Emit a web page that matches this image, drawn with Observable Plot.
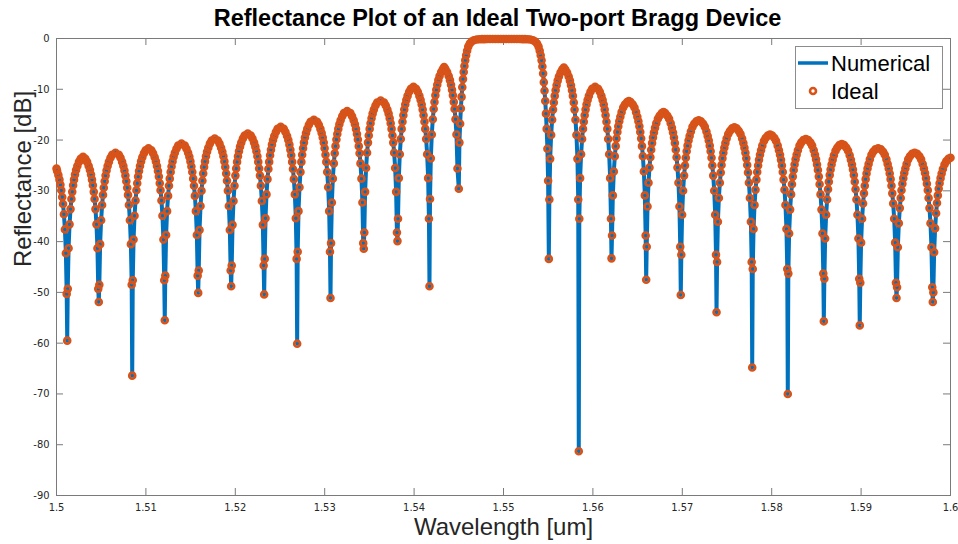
<!DOCTYPE html>
<html><head><meta charset="utf-8">
<script src="https://cdn.jsdelivr.net/npm/d3@7"></script>
<script src="https://cdn.jsdelivr.net/npm/@observablehq/plot@0.6"></script>
<style>
html,body{margin:0;padding:0;background:#fff;}
#chart{width:958px;height:544px;}
</style></head><body><div id="chart"></div>
<script>
// ---- Data: [wavelength (um), reflectance (dB)] ----
const leftSidelobes = [
[1.50000,-25.6],[1.50007,-26.1],[1.50021,-26.9],[1.50033,-27.8],[1.50044,-28.8],[1.50054,-29.9],[1.50064,-31.2],[1.50073,-32.6],[1.50083,-34.6],[1.50094,-37.6],[1.50105,-42.3],[1.50114,-50.3],
[1.50120,-59.5],
[1.50126,-49.3],[1.50135,-41.3],[1.50146,-36.6],[1.50157,-33.6],[1.50167,-31.6],[1.50176,-30.2],[1.50186,-28.9],[1.50196,-27.8],[1.50207,-26.8],[1.50219,-25.9],[1.50233,-25.1],[1.50251,-24.3],[1.50270,-23.7],[1.50297,-23.3],[1.50323,-23.7],[1.50342,-24.3],[1.50360,-25.1],[1.50374,-25.9],[1.50386,-26.8],[1.50397,-27.8],[1.50407,-28.9],[1.50417,-30.2],[1.50426,-31.6],[1.50436,-33.6],[1.50447,-36.6],[1.50458,-41.3],[1.50467,-49.3],
[1.50473,-51.9],
[1.50479,-48.5],[1.50488,-40.5],[1.50499,-35.8],[1.50510,-32.8],[1.50520,-30.8],[1.50529,-29.4],[1.50539,-28.1],[1.50549,-27.0],[1.50560,-26.0],[1.50572,-25.1],[1.50586,-24.3],[1.50604,-23.5],[1.50623,-22.9],[1.50660,-22.5],[1.50697,-22.9],[1.50716,-23.5],[1.50734,-24.3],[1.50748,-25.1],[1.50760,-26.0],[1.50771,-27.0],[1.50781,-28.1],[1.50791,-29.4],[1.50800,-30.8],[1.50810,-32.8],[1.50821,-35.8],[1.50832,-40.5],[1.50841,-48.5],
[1.50847,-66.4],
[1.50853,-47.6],[1.50862,-39.6],[1.50873,-34.9],[1.50884,-31.9],[1.50894,-29.9],[1.50903,-28.5],[1.50913,-27.2],[1.50923,-26.1],[1.50934,-25.1],[1.50946,-24.2],[1.50960,-23.4],[1.50978,-22.6],[1.50997,-22.0],[1.51029,-21.6],[1.51061,-22.0],[1.51080,-22.6],[1.51098,-23.4],[1.51112,-24.2],[1.51124,-25.1],[1.51135,-26.1],[1.51145,-27.2],[1.51155,-28.5],[1.51164,-29.9],[1.51174,-31.9],[1.51185,-34.9],[1.51196,-39.6],[1.51205,-47.6],
[1.51211,-55.5],
[1.51217,-46.7],[1.51226,-38.7],[1.51237,-34.0],[1.51248,-31.0],[1.51258,-29.0],[1.51267,-27.6],[1.51277,-26.3],[1.51287,-25.2],[1.51298,-24.2],[1.51310,-23.3],[1.51324,-22.5],[1.51342,-21.7],[1.51361,-21.1],[1.51398,-20.7],[1.51435,-21.1],[1.51454,-21.7],[1.51472,-22.5],[1.51486,-23.3],[1.51498,-24.2],[1.51509,-25.2],[1.51519,-26.3],[1.51529,-27.6],[1.51538,-29.0],[1.51548,-31.0],[1.51559,-34.0],[1.51570,-38.7],[1.51579,-46.7],
[1.51585,-50.1],
[1.51591,-45.7],[1.51600,-37.7],[1.51611,-33.0],[1.51622,-30.0],[1.51632,-28.0],[1.51641,-26.6],[1.51651,-25.3],[1.51661,-24.2],[1.51672,-23.2],[1.51684,-22.3],[1.51698,-21.5],[1.51716,-20.7],[1.51735,-20.1],[1.51770,-19.7],[1.51804,-20.1],[1.51823,-20.7],[1.51841,-21.5],[1.51855,-22.3],[1.51867,-23.2],[1.51878,-24.2],[1.51888,-25.3],[1.51898,-26.6],[1.51907,-28.0],[1.51917,-30.0],[1.51928,-33.0],[1.51939,-37.7],[1.51948,-45.7],
[1.51954,-48.8],
[1.51960,-44.7],[1.51969,-36.7],[1.51980,-32.0],[1.51991,-29.0],[1.52001,-27.0],[1.52010,-25.6],[1.52020,-24.3],[1.52030,-23.2],[1.52041,-22.2],[1.52053,-21.3],[1.52067,-20.5],[1.52085,-19.7],[1.52104,-19.1],[1.52139,-18.7],[1.52173,-19.1],[1.52192,-19.7],[1.52210,-20.5],[1.52224,-21.3],[1.52236,-22.2],[1.52247,-23.2],[1.52257,-24.3],[1.52267,-25.6],[1.52276,-27.0],[1.52286,-29.0],[1.52297,-32.0],[1.52308,-36.7],[1.52317,-44.7],
[1.52323,-50.4],
[1.52329,-43.4],[1.52338,-35.4],[1.52349,-30.7],[1.52360,-27.7],[1.52370,-25.7],[1.52379,-24.3],[1.52389,-23.0],[1.52399,-21.9],[1.52410,-20.9],[1.52422,-20.0],[1.52436,-19.2],[1.52454,-18.4],[1.52473,-17.8],[1.52508,-17.4],[1.52542,-17.8],[1.52561,-18.4],[1.52579,-19.2],[1.52593,-20.0],[1.52605,-20.9],[1.52616,-21.9],[1.52626,-23.0],[1.52636,-24.3],[1.52645,-25.7],[1.52655,-27.7],[1.52666,-30.7],[1.52677,-35.4],[1.52686,-43.4],
[1.52692,-60.1],
[1.52698,-42.0],[1.52707,-34.0],[1.52718,-29.3],[1.52729,-26.3],[1.52739,-24.3],[1.52748,-22.9],[1.52758,-21.6],[1.52768,-20.5],[1.52779,-19.5],[1.52791,-18.6],[1.52805,-17.8],[1.52823,-17.0],[1.52842,-16.4],[1.52879,-16.0],[1.52915,-16.4],[1.52934,-17.0],[1.52952,-17.8],[1.52966,-18.6],[1.52978,-19.5],[1.52989,-20.5],[1.52999,-21.6],[1.53009,-22.9],[1.53018,-24.3],[1.53028,-26.3],[1.53039,-29.3],[1.53050,-34.0],[1.53059,-42.0],
[1.53065,-51.1],
[1.53071,-40.3],[1.53080,-32.3],[1.53091,-27.6],[1.53102,-24.6],[1.53112,-22.6],[1.53121,-21.2],[1.53131,-19.9],[1.53141,-18.8],[1.53152,-17.8],[1.53164,-16.9],[1.53178,-16.1],[1.53196,-15.3],[1.53215,-14.7],[1.53251,-14.3],[1.53287,-14.7],[1.53306,-15.3],[1.53324,-16.1],[1.53338,-16.9],[1.53350,-17.8],[1.53361,-18.8],[1.53371,-19.9],[1.53381,-21.2],[1.53390,-22.6],[1.53400,-24.6],[1.53411,-27.6],[1.53422,-32.3],[1.53431,-40.3],
[1.53437,-41.4],
[1.53443,-38.2],[1.53452,-30.2],[1.53463,-25.5],[1.53474,-22.5],[1.53484,-20.5],[1.53493,-19.1],[1.53503,-17.8],[1.53513,-16.7],[1.53524,-15.7],[1.53536,-14.8],[1.53550,-14.0],[1.53568,-13.2],[1.53587,-12.6],[1.53626,-12.2],[1.53664,-12.6],[1.53683,-13.2],[1.53701,-14.0],[1.53715,-14.8],[1.53727,-15.7],[1.53738,-16.7],[1.53748,-17.8],[1.53758,-19.1],[1.53767,-20.5],[1.53777,-22.5],[1.53788,-25.5],[1.53799,-30.2],[1.53808,-38.2],
[1.53814,-39.9],
[1.53820,-35.5],[1.53829,-27.5],[1.53840,-22.8],[1.53851,-19.8],[1.53861,-17.8],[1.53870,-16.4],[1.53880,-15.1],[1.53890,-14.0],[1.53901,-13.0],[1.53913,-12.1],[1.53927,-11.3],[1.53945,-10.5],[1.53964,-9.9],[1.53993,-9.5],[1.54022,-9.9],[1.54041,-10.5],[1.54059,-11.3],[1.54073,-12.1],[1.54085,-13.0],[1.54096,-14.0],[1.54106,-15.1],[1.54116,-16.4],[1.54125,-17.8],[1.54135,-19.8],[1.54146,-22.8],[1.54157,-27.5],[1.54166,-35.5],
[1.54172,-48.8],
[1.54178,-31.6],[1.54187,-23.6],[1.54198,-18.9],[1.54209,-15.9],[1.54219,-13.9],[1.54228,-12.5],[1.54238,-11.2],[1.54248,-10.1],[1.54259,-9.1],[1.54271,-8.2],[1.54285,-7.4],[1.54303,-6.6],[1.54322,-6.0],[1.54336,-5.6],[1.54350,-6.0],[1.54369,-6.6],[1.54387,-7.4],[1.54401,-8.2],[1.54413,-9.1],[1.54424,-10.1],[1.54434,-11.2],[1.54444,-12.5],[1.54453,-13.9],[1.54463,-15.9],[1.54474,-18.9],[1.54485,-25.6],
[1.54500,-29.6]
];

const mainLobe = [
[1.54507,-20.5],[1.54515,-16.8],[1.54523,-13.8],[1.54531,-11.5],[1.54539,-9.6],[1.54547,-8.0],[1.54555,-6.6],[1.54563,-5.4],[1.54572,-4.3],[1.54582,-3.3],[1.54593,-2.4],[1.54606,-1.6],[1.54623,-1.0],[1.54643,-0.6],[1.54668,-0.35],[1.54700,-0.2],
[1.54730,-0.15],[1.54760,-0.13],[1.54790,-0.12],[1.54820,-0.11],[1.54850,-0.1],[1.54880,-0.1],[1.54910,-0.1],[1.54940,-0.1],[1.54970,-0.1],[1.55000,-0.1],[1.55030,-0.1],[1.55060,-0.1],[1.55090,-0.1],[1.55120,-0.1],[1.55150,-0.1],[1.55180,-0.11],[1.55210,-0.12],[1.55240,-0.13],[1.55270,-0.15],
[1.55300,-0.2],[1.55330,-0.35],[1.55355,-0.6],[1.55375,-1.0],[1.55392,-1.6],[1.55405,-2.4],[1.55416,-3.3],[1.55426,-4.3],[1.55435,-5.5],[1.55443,-6.9],[1.55451,-8.6],[1.55459,-10.3],[1.55467,-12.3],[1.55475,-14.8],[1.55483,-17.8],[1.55491,-21.7],[1.55499,-28.0]
];

const rightSidelobes = [
[1.55507,-43.4],
[1.55513,-31.7],[1.55522,-23.7],[1.55533,-19.0],[1.55544,-16.0],[1.55554,-14.0],[1.55563,-12.6],[1.55573,-11.3],[1.55583,-10.2],[1.55594,-9.2],[1.55606,-8.3],[1.55620,-7.5],[1.55638,-6.7],[1.55657,-6.1],[1.55675,-5.7],[1.55692,-6.1],[1.55711,-6.7],[1.55729,-7.5],[1.55743,-8.3],[1.55755,-9.2],[1.55766,-10.2],[1.55776,-11.3],[1.55786,-12.6],[1.55795,-14.0],[1.55805,-16.0],[1.55816,-19.0],[1.55827,-23.7],[1.55836,-31.7],
[1.55842,-81.3],
[1.55848,-35.5],[1.55857,-27.5],[1.55868,-22.8],[1.55879,-19.8],[1.55889,-17.8],[1.55898,-16.4],[1.55908,-15.1],[1.55918,-14.0],[1.55929,-13.0],[1.55941,-12.1],[1.55955,-11.3],[1.55973,-10.5],[1.55992,-9.9],[1.56025,-9.5],[1.56058,-9.9],[1.56077,-10.5],[1.56095,-11.3],[1.56109,-12.1],[1.56121,-13.0],[1.56132,-14.0],[1.56142,-15.1],[1.56152,-16.4],[1.56161,-17.8],[1.56171,-19.8],[1.56182,-22.8],[1.56193,-27.5],[1.56202,-35.5],
[1.56208,-43.3],
[1.56214,-38.8],[1.56223,-30.9],[1.56234,-26.2],[1.56245,-23.2],[1.56255,-21.2],[1.56264,-19.7],[1.56274,-18.4],[1.56284,-17.3],[1.56295,-16.3],[1.56307,-15.4],[1.56321,-14.5],[1.56339,-13.6],[1.56358,-13.0],[1.56383,-12.5],[1.56402,-12.3],[1.56421,-12.5],[1.56446,-13.0],[1.56465,-13.6],[1.56483,-14.5],[1.56497,-15.4],[1.56509,-16.3],[1.56520,-17.3],[1.56530,-18.4],[1.56540,-19.7],[1.56549,-21.2],[1.56559,-23.2],[1.56570,-26.2],[1.56581,-30.9],[1.56590,-38.8],
[1.56596,-47.5],
[1.56602,-41.0],[1.56611,-33.1],[1.56622,-28.4],[1.56633,-25.4],[1.56643,-23.4],[1.56652,-21.9],[1.56662,-20.6],[1.56672,-19.5],[1.56683,-18.5],[1.56695,-17.6],[1.56709,-16.7],[1.56727,-15.8],[1.56746,-15.2],[1.56771,-14.7],[1.56790,-14.5],[1.56808,-14.7],[1.56833,-15.2],[1.56852,-15.8],[1.56870,-16.7],[1.56884,-17.6],[1.56896,-18.5],[1.56907,-19.5],[1.56917,-20.6],[1.56927,-21.9],[1.56936,-23.4],[1.56946,-25.4],[1.56957,-28.4],[1.56968,-33.1],[1.56977,-41.0],
[1.56983,-50.5],
[1.56989,-42.6],[1.56998,-34.7],[1.57009,-30.0],[1.57020,-27.0],[1.57030,-25.0],[1.57039,-23.5],[1.57049,-22.2],[1.57059,-21.1],[1.57070,-20.1],[1.57082,-19.2],[1.57096,-18.3],[1.57114,-17.4],[1.57133,-16.8],[1.57158,-16.3],[1.57183,-16.1],[1.57208,-16.3],[1.57233,-16.8],[1.57252,-17.4],[1.57270,-18.3],[1.57284,-19.2],[1.57296,-20.1],[1.57307,-21.1],[1.57317,-22.2],[1.57327,-23.5],[1.57336,-25.0],[1.57346,-27.0],[1.57357,-30.0],[1.57368,-34.7],[1.57377,-42.6],
[1.57383,-53.9],
[1.57389,-44.0],[1.57398,-36.1],[1.57409,-31.4],[1.57420,-28.4],[1.57430,-26.4],[1.57439,-24.9],[1.57449,-23.6],[1.57459,-22.5],[1.57470,-21.5],[1.57482,-20.6],[1.57496,-19.7],[1.57514,-18.8],[1.57533,-18.2],[1.57558,-17.7],[1.57583,-17.5],[1.57607,-17.7],[1.57632,-18.2],[1.57651,-18.8],[1.57669,-19.7],[1.57683,-20.6],[1.57695,-21.5],[1.57706,-22.5],[1.57716,-23.6],[1.57726,-24.9],[1.57735,-26.4],[1.57745,-28.4],[1.57756,-31.4],[1.57767,-36.1],[1.57776,-44.0],
[1.57782,-64.8],
[1.57788,-45.4],[1.57797,-37.5],[1.57808,-32.8],[1.57819,-29.8],[1.57829,-27.8],[1.57838,-26.3],[1.57848,-25.0],[1.57858,-23.9],[1.57869,-22.9],[1.57881,-22.0],[1.57895,-21.1],[1.57913,-20.2],[1.57932,-19.6],[1.57957,-19.1],[1.57981,-18.9],[1.58005,-19.1],[1.58030,-19.6],[1.58049,-20.2],[1.58067,-21.1],[1.58081,-22.0],[1.58093,-22.9],[1.58104,-23.9],[1.58114,-25.0],[1.58124,-26.3],[1.58133,-27.8],[1.58143,-29.8],[1.58154,-32.8],[1.58165,-37.5],[1.58174,-45.4],
[1.58180,-70.0],
[1.58186,-46.3],[1.58195,-38.4],[1.58206,-33.7],[1.58217,-30.7],[1.58227,-28.7],[1.58236,-27.2],[1.58246,-25.9],[1.58256,-24.8],[1.58267,-23.8],[1.58279,-22.9],[1.58293,-22.0],[1.58311,-21.1],[1.58330,-20.5],[1.58355,-20.0],[1.58382,-19.8],[1.58408,-20.0],[1.58433,-20.5],[1.58452,-21.1],[1.58470,-22.0],[1.58484,-22.9],[1.58496,-23.8],[1.58507,-24.8],[1.58517,-25.9],[1.58527,-27.2],[1.58536,-28.7],[1.58546,-30.7],[1.58557,-33.7],[1.58568,-38.4],[1.58577,-46.3],
[1.58583,-55.7],
[1.58589,-47.3],[1.58598,-39.4],[1.58609,-34.7],[1.58620,-31.7],[1.58630,-29.7],[1.58639,-28.2],[1.58649,-26.9],[1.58659,-25.8],[1.58670,-24.8],[1.58682,-23.9],[1.58696,-23.0],[1.58714,-22.1],[1.58733,-21.5],[1.58758,-21.0],[1.58784,-20.8],[1.58810,-21.0],[1.58835,-21.5],[1.58854,-22.1],[1.58872,-23.0],[1.58886,-23.9],[1.58898,-24.8],[1.58909,-25.8],[1.58919,-26.9],[1.58929,-28.2],[1.58938,-29.7],[1.58948,-31.7],[1.58959,-34.7],[1.58970,-39.4],[1.58979,-47.3],
[1.58985,-56.5],
[1.58991,-48.1],[1.59000,-40.2],[1.59011,-35.5],[1.59022,-32.5],[1.59032,-30.5],[1.59041,-29.0],[1.59051,-27.7],[1.59061,-26.6],[1.59072,-25.6],[1.59084,-24.7],[1.59098,-23.8],[1.59116,-22.9],[1.59135,-22.3],[1.59160,-21.8],[1.59191,-21.6],[1.59221,-21.8],[1.59246,-22.3],[1.59265,-22.9],[1.59283,-23.8],[1.59297,-24.7],[1.59309,-25.6],[1.59320,-26.6],[1.59330,-27.7],[1.59340,-29.0],[1.59349,-30.5],[1.59359,-32.5],[1.59370,-35.5],[1.59381,-40.2],[1.59390,-48.1],
[1.59396,-51.1],
[1.59402,-49.0],[1.59411,-41.1],[1.59422,-36.4],[1.59433,-33.4],[1.59443,-31.4],[1.59452,-29.9],[1.59462,-28.6],[1.59472,-27.5],[1.59483,-26.5],[1.59495,-25.6],[1.59509,-24.7],[1.59527,-23.8],[1.59546,-23.2],[1.59571,-22.7],[1.59599,-22.5],[1.59627,-22.7],[1.59652,-23.2],[1.59671,-23.8],[1.59689,-24.7],[1.59703,-25.6],[1.59715,-26.5],[1.59726,-27.5],[1.59736,-28.6],[1.59746,-29.9],[1.59755,-31.4],[1.59765,-33.4],[1.59776,-36.4],[1.59787,-41.1],[1.59796,-49.0],
[1.59802,-51.9],
[1.59808,-50.0],[1.59817,-42.1],[1.59828,-37.4],[1.59839,-34.4],[1.59849,-32.4],[1.59858,-30.9],[1.59868,-29.6],[1.59878,-28.5],[1.59889,-27.5],[1.59901,-26.6],[1.59915,-25.7],[1.59933,-24.8],[1.59952,-24.2],[1.59977,-23.7],[1.60000,-23.5]
];

const xTicks = [1.5,1.51,1.52,1.53,1.54,1.55,1.56,1.57,1.58,1.59,1.6];
const xTickLabels = ["1.5","1.51","1.52","1.53","1.54","1.55","1.56","1.57","1.58","1.59","1.6"];
const yTicks = [0,-10,-20,-30,-40,-50,-60,-70,-80,-90];
const yTickLabels = ["0","-10","-20","-30","-40","-50","-60","-70","-80","-90"];
const seriesNames = ["Numerical","Ideal"];
const titleText = "Reflectance Plot of an Ideal Two-port Bragg Device";
const xLabelText = "Wavelength [um]";
const yLabelText = "Reflectance [dB]";

// ---- Table built from the arrays ----
const samples = [...leftSidelobes, ...mainLobe, ...rightSidelobes];
const table = samples.map(([wl, db]) => ({wl, numerical: db, ideal: db}));
const xLab = new Map(xTicks.map((v, i) => [v, xTickLabels[i]]));
const yLab = new Map(yTicks.map((v, i) => [v, yTickLabels[i]]));

const W = 958, H = 544, mL = 56, mR = 8, mT = 38, mB = 49;
const fH = H - mT - mB, fW = W - mL - mR, tk = 7;
const axisColor = "#7a7a7a";
const blue = "#0072BD", orange = "#D95319";
const sans = "'Liberation Sans', Arial, sans-serif";
const narrow = "'Liberation Sans Narrow', 'DejaVu Sans Condensed', 'Liberation Sans', sans-serif";

const chart = Plot.plot({
  width: W, height: H,
  marginLeft: mL, marginRight: mR, marginTop: mT, marginBottom: mB,
  style: {fontFamily: narrow, fontSize: "11px", color: "#262626", background: "#fff", overflow: "visible"},
  x: {domain: [1.5, 1.6]},
  y: {domain: [-90, 0]},
  marks: [
    Plot.tickX(xTicks, {x: d => d, insetTop: fH - tk, stroke: axisColor}),
    Plot.tickX(xTicks, {x: d => d, insetBottom: fH - tk, stroke: axisColor}),
    Plot.tickY(yTicks, {y: d => d, insetRight: fW - tk, stroke: axisColor}),
    Plot.tickY(yTicks, {y: d => d, insetLeft: fW - tk, stroke: axisColor}),
    Plot.axisX(xTicks, {anchor: "bottom", tickSize: 0, tickPadding: 8, tickFormat: d => xLab.get(d), label: null}),
    Plot.axisY(yTicks, {anchor: "left", tickSize: 0, tickPadding: 7, tickFormat: d => yLab.get(d), label: null}),
    Plot.frame({stroke: axisColor}),
    Plot.line(table, {x: "wl", y: "numerical", stroke: blue, strokeWidth: 4}),
    Plot.dot(table, {x: "wl", y: "ideal", r: 3, stroke: orange, strokeWidth: 2.6, fill: "none"}),
    Plot.text([titleText], {frameAnchor: "top", lineAnchor: "middle", dy: -20, dx: -6, fontSize: 23.5, fontWeight: "bold", fontFamily: sans, fill: "#000"}),
    Plot.text([xLabelText], {frameAnchor: "bottom", lineAnchor: "middle", dy: 32, fontSize: 24, fontFamily: sans, fill: "#262626"}),
    Plot.text([yLabelText], {frameAnchor: "left", lineAnchor: "middle", dx: -33, rotate: -90, fontSize: 24, fontFamily: sans, fill: "#262626"})
  ]
});

// ---- Legend box (inside the axes, top-right) ----
const svg = d3.select(chart);
const lg = svg.append("g").attr("font-family", sans).attr("font-size", 22).attr("text-anchor", "start");
lg.append("rect").attr("x", 795.5).attr("y", 46.5).attr("width", 147).attr("height", 62)
  .attr("fill", "#fff").attr("stroke", "#8c8c8c");
lg.append("line").attr("x1", 798).attr("x2", 828).attr("y1", 63).attr("y2", 63)
  .attr("stroke", blue).attr("stroke-width", 3.5);
lg.append("circle").attr("cx", 813).attr("cy", 91).attr("r", 3)
  .attr("fill", "none").attr("stroke", orange).attr("stroke-width", 2.6);
lg.append("text").attr("x", 831).attr("y", 63).attr("dy", "0.35em").attr("fill", "#000").text(seriesNames[0]);
lg.append("text").attr("x", 831).attr("y", 91).attr("dy", "0.35em").attr("fill", "#000").text(seriesNames[1]);

document.getElementById("chart").appendChild(chart);
</script></body></html>
